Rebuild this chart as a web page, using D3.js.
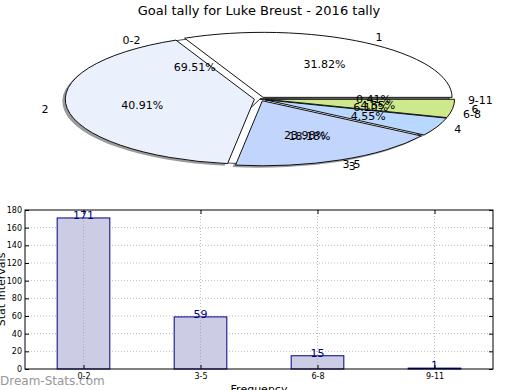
<!DOCTYPE html>
<html>
<head>
<meta charset="utf-8">
<script src="https://cdn.jsdelivr.net/npm/d3@7"></script>
<style>
  body { margin: 0; background: #fff; }
  svg { display: block; font-family: "DejaVu Sans", sans-serif; }
</style>
</head>
<body>
<div id="chart"></div>
<script>
// pie 1 : goals per game
var goalLabels = ["1", "2", "3", "4", "6"];
var goalGames = [7, 9, 4, 1, 1];
// pie 2 + bars : frequency intervals
var freqLabels = ["0-2", "3-5", "6-8", "9-11"];
var freqCounts = [171, 59, 15, 1];
var yTicks = [0, 20, 40, 60, 80, 100, 120, 140, 160, 180];

var goalColors = ["#ffffff", "#eaf1fd", "#c2d5fd", "#b8d8ff", "#cde98b"];

var width = 520, height = 390;
var svg = d3.select("#chart").append("svg")
    .attr("width", width)
    .attr("height", height);

svg.append("text")
    .attr("x", 259).attr("y", 15)
    .attr("text-anchor", "middle")
    .attr("font-size", 13)
    .text("Goal tally for Luke Breust - 2016 tally");

// ---- elliptical pies (matplotlib style: start at 3 o'clock, counter-clockwise)
var cx = 260, cy = 99, rx = 189, ry = 65, explode = 0.03;

var pie = d3.pie().sort(null)
    .startAngle(Math.PI / 2)
    .endAngle(Math.PI / 2 - 2 * Math.PI);
var arc = d3.arc().innerRadius(0).outerRadius(1);

var goalArcs = pie(goalGames);
var freqArcs = pie(freqCounts);
var totalGoals = d3.sum(goalGames), totalFreq = d3.sum(freqCounts);

function mid(d) { return (d.startAngle + d.endAngle) / 2; }
function px(a, r) { return cx + Math.sin(a) * r * rx; }
function py(a, r) { return cy - Math.cos(a) * r * ry; }

var pieG = svg.append("g");

// shadow
pieG.append("g")
    .attr("transform", "translate(" + (cx - 3) + "," + (cy + 2) + ") scale(" + rx + "," + ry + ")")
    .selectAll("path")
    .data(goalArcs)
    .enter().append("path")
    .attr("transform", d => "translate(" + Math.sin(mid(d)) * explode + "," + (-Math.cos(mid(d)) * explode) + ")")
    .attr("d", arc)
    .attr("fill", "#7a7a7a")
    .attr("opacity", 0.75);

// pie 2 (hidden beneath pie 1)
pieG.append("g")
    .attr("transform", "translate(" + cx + "," + cy + ") scale(" + rx + "," + ry + ")")
    .selectAll("path")
    .data(freqArcs)
    .enter().append("path")
    .attr("d", arc)
    .attr("fill", "#ffffff")
    .attr("stroke", "#222")
    .attr("stroke-width", 0.8)
    .attr("vector-effect", "non-scaling-stroke");

// pie 1
pieG.append("g")
    .attr("transform", "translate(" + cx + "," + cy + ") scale(" + rx + "," + ry + ")")
    .selectAll("path")
    .data(goalArcs)
    .enter().append("path")
    .attr("transform", d => "translate(" + Math.sin(mid(d)) * explode + "," + (-Math.cos(mid(d)) * explode) + ")")
    .attr("d", arc)
    .attr("fill", (d, i) => goalColors[i])
    .attr("stroke", "#111")
    .attr("stroke-width", 1)
    .attr("vector-effect", "non-scaling-stroke");

function pieTexts(arcs, labels, total, off) {
    arcs.forEach(function(d, i) {
        var a = mid(d);
        var ox = Math.sin(a) * off * rx, oy = -Math.cos(a) * off * ry;
        svg.append("text")
            .attr("x", px(a, 1.1) + ox)
            .attr("y", py(a, 1.1) + oy)
            .attr("dy", "0.35em")
            .attr("text-anchor", Math.sin(a) > 0 ? "start" : "end")
            .attr("font-size", 11)
            .text(labels[i]);
        svg.append("text")
            .attr("x", px(a, 0.6) + ox)
            .attr("y", py(a, 0.6) + oy)
            .attr("dy", "0.35em")
            .attr("text-anchor", "middle")
            .attr("font-size", 11)
            .text((d.value / total * 100).toFixed(2) + "%");
    });
}
pieTexts(freqArcs, freqLabels, totalFreq, 0);
pieTexts(goalArcs, goalLabels, totalGoals, explode);

// ---- bar chart
var plotL = 25, plotR = 493, plotT = 210, plotB = 369;
var x = d3.scaleLinear().domain([-0.5, 3.5]).range([plotL, plotR]);
var y = d3.scaleLinear().domain([0, 180]).range([plotB, plotT]);
var barW = 0.45;

// grid
svg.append("g").selectAll("line")
    .data(yTicks.slice(1, -1))
    .enter().append("line")
    .attr("x1", plotL).attr("x2", plotR)
    .attr("y1", d => y(d)).attr("y2", d => y(d))
    .attr("stroke", "#bbb").attr("stroke-dasharray", "1,2");
svg.append("g").selectAll("line")
    .data(d3.range(freqLabels.length))
    .enter().append("line")
    .attr("x1", d => x(d)).attr("x2", d => x(d))
    .attr("y1", plotT).attr("y2", plotB)
    .attr("stroke", "#bbb").attr("stroke-dasharray", "1,2");

svg.append("g").selectAll("rect")
    .data(freqCounts)
    .enter().append("rect")
    .attr("x", (d, i) => x(i - barW / 2))
    .attr("y", d => y(d))
    .attr("width", x(barW) - x(0))
    .attr("height", d => plotB - y(d))
    .attr("fill", "#ccccE5")
    .attr("stroke", "#000080")
    .attr("stroke-width", 1);

// vertical grid shows through the bars too
svg.append("g").selectAll("line")
    .data(d3.range(freqLabels.length))
    .enter().append("line")
    .attr("x1", d => x(d)).attr("x2", d => x(d))
    .attr("y1", d => y(freqCounts[d])).attr("y2", plotB)
    .attr("stroke", "#aaa").attr("stroke-dasharray", "1,2");

svg.append("g").selectAll("text")
    .data(freqCounts)
    .enter().append("text")
    .attr("x", (d, i) => x(i))
    .attr("y", d => y(d) + 1)
    .attr("text-anchor", "middle")
    .attr("font-size", 11)
    .attr("fill", "#000080")
    .text(d => d);

var yAxis = svg.append("g")
    .attr("transform", "translate(" + plotL + ",0)")
    .call(d3.axisLeft(y).tickValues(yTicks).tickSizeInner(-4).tickSizeOuter(0).tickPadding(3));
var yAxisR = svg.append("g")
    .attr("transform", "translate(" + plotR + ",0)")
    .call(d3.axisRight(y).tickValues(yTicks).tickSizeInner(-4).tickSizeOuter(0).tickFormat(""));
var xAxis = svg.append("g")
    .attr("transform", "translate(0," + plotB + ")")
    .call(d3.axisBottom(x).tickValues(d3.range(freqLabels.length))
        .tickFormat(i => freqLabels[i]).tickSizeInner(-4).tickSizeOuter(0).tickPadding(4));
var xAxisT = svg.append("g")
    .attr("transform", "translate(0," + plotT + ")")
    .call(d3.axisTop(x).tickValues(d3.range(freqLabels.length))
        .tickSizeInner(-4).tickSizeOuter(0).tickFormat(""));

[yAxis, yAxisR, xAxis, xAxisT].forEach(function(g) {
    g.select(".domain").remove();
    g.selectAll("text").attr("font-size", 8).attr("font-family", "DejaVu Sans, sans-serif").attr("fill", "#000");
    g.selectAll("line").attr("stroke", "#000");
});

svg.append("rect")
    .attr("x", plotL).attr("y", plotT)
    .attr("width", plotR - plotL).attr("height", plotB - plotT)
    .attr("fill", "none").attr("stroke", "#000");

svg.append("text")
    .attr("transform", "translate(5," + ((plotT + plotB) / 2) + ") rotate(-90)")
    .attr("text-anchor", "middle")
    .attr("font-size", 11)
    .text("Stat Intervals");

svg.append("text")
    .attr("x", (plotL + plotR) / 2).attr("y", 393)
    .attr("text-anchor", "middle")
    .attr("font-size", 11)
    .text("Frequency");

svg.append("text")
    .attr("x", 0).attr("y", 385)
    .attr("font-size", 12)
    .attr("fill", "#8c8c8c")
    .attr("opacity", 0.9)
    .text("Dream-Stats.com");
</script>
</body>
</html>
